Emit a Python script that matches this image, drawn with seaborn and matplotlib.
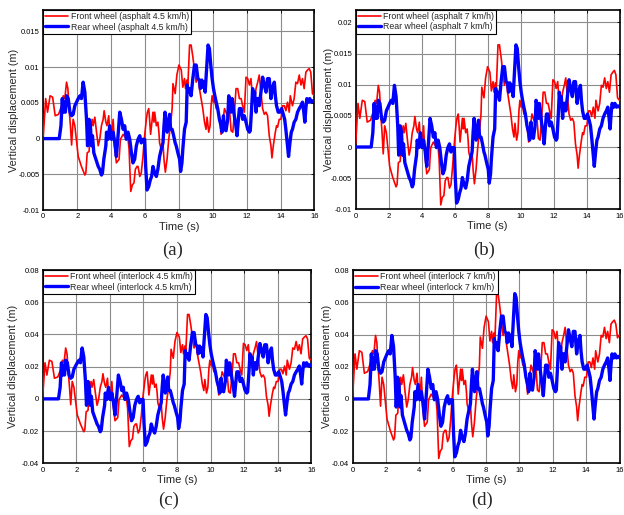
import matplotlib
matplotlib.use("Agg")
import matplotlib.pyplot as plt
from matplotlib.ticker import MultipleLocator, FuncFormatter
import pandas as pd
import seaborn as sns

t_front = [
    0.0, 0.14, 0.25, 0.4, 0.55, 0.7, 0.9, 1.08, 1.18, 1.27,
    1.37, 1.45, 1.53, 1.6, 1.67, 1.76, 1.86, 2.06, 2.25, 2.45,
    2.51, 2.59, 2.7, 2.78, 2.88, 2.94, 3.04, 3.14, 3.24, 3.33,
    3.43, 3.53, 3.59, 3.69, 3.76, 3.86, 3.92, 4.02, 4.12, 4.2,
    4.31, 4.47, 4.55, 4.71, 4.86, 5.0, 5.06, 5.1, 5.16, 5.25,
    5.35, 5.43, 5.53, 5.59, 5.69, 5.78, 5.88, 5.94, 6.0, 6.08,
    6.14, 6.22, 6.27, 6.33, 6.47, 6.53, 6.57, 6.67, 6.76, 6.82,
    6.86, 6.96, 7.06, 7.12, 7.2, 7.3, 7.4, 7.5, 7.6, 7.65,
    7.78, 7.88, 8.0, 8.14, 8.23, 8.33, 8.39, 8.47, 8.53, 8.63,
    8.72, 8.82, 8.92, 9.02, 9.12, 9.21, 9.31, 9.41, 9.51, 9.6,
    9.66, 9.76, 9.84, 9.9, 9.96, 10.04, 10.1, 10.2, 10.3, 10.39,
    10.49, 10.59, 10.69, 10.78, 10.88, 10.98, 11.08, 11.18, 11.27, 11.37,
    11.47, 11.57, 11.67, 11.76, 11.86, 11.96, 12.06, 12.16, 12.25, 12.35,
    12.45, 12.55, 12.65, 12.74, 12.84, 12.94, 13.04, 13.14, 13.23, 13.33,
    13.43, 13.49, 13.57, 13.69, 13.76, 13.82, 13.92, 14.02, 14.12, 14.22,
    14.31, 14.41, 14.51, 14.57, 14.7, 14.8, 14.9, 15.0, 15.1, 15.2,
    15.29, 15.39, 15.49, 15.59, 15.69, 15.78, 15.88, 16.0,
]
t_rear = [
    0.0, 0.94, 1.04, 1.12, 1.18, 1.24, 1.3, 1.37, 1.47, 1.57,
    1.67, 1.76, 1.86, 1.96, 2.06, 2.16, 2.25, 2.35, 2.45, 2.55,
    2.61, 2.7, 2.78, 2.84, 2.9, 2.98, 3.1, 3.24, 3.33, 3.43,
    3.49, 3.57, 3.69, 3.73, 3.82, 3.92, 4.02, 4.12, 4.22, 4.31,
    4.41, 4.51, 4.61, 4.71, 4.8, 4.9, 5.0, 5.1, 5.2, 5.29,
    5.39, 5.49, 5.59, 5.69, 5.78, 5.88, 5.98, 6.04, 6.12, 6.22,
    6.31, 6.39, 6.47, 6.57, 6.67, 6.76, 6.86, 6.96, 7.06, 7.12,
    7.18, 7.25, 7.31, 7.37, 7.45, 7.51, 7.6, 7.69, 7.78, 7.84,
    7.94, 8.04, 8.1, 8.18, 8.23, 8.33, 8.43, 8.49, 8.57, 8.63,
    8.72, 8.82, 8.92, 9.02, 9.12, 9.21, 9.27, 9.35, 9.41, 9.47,
    9.55, 9.65, 9.72, 9.8, 9.88, 9.96, 10.04, 10.12, 10.2, 10.29,
    10.39, 10.49, 10.55, 10.63, 10.69, 10.78, 10.88, 10.94, 11.02, 11.08,
    11.14, 11.22, 11.27, 11.37, 11.43, 11.51, 11.57, 11.67, 11.76, 11.86,
    11.96, 12.06, 12.16, 12.21, 12.29, 12.35, 12.41, 12.47, 12.55, 12.61,
    12.69, 12.74, 12.84, 12.94, 13.04, 13.14, 13.23, 13.33, 13.43, 13.53,
    13.63, 13.69, 13.76, 13.86, 13.96, 14.06, 14.16, 14.24, 14.31, 14.41,
    14.47, 14.55, 14.63, 14.7, 14.8, 14.9, 15.0, 15.1, 15.2, 15.29,
    15.37, 15.43, 15.49, 15.55, 15.65, 15.72, 15.82, 15.92, 16.0,
]

# vertical displacement in mm, one list per panel and wheel
front_asphalt_45 = [
    0.4, 5.6, 3.7, 6.0, 5.8, 3.2, 3.4, 4.6, 6.0, 5.6,
    7.9, 7.0, 3.9, 1.8, -0.9, 2.7, 1.8, -2.5, -3.9, -5.1,
    -4.8, -2.0, -1.8, 0.9, 2.7, 1.8, 3.0, 0.9, -1.0, -0.1,
    1.8, 2.7, 3.9, 2.3, 1.8, 3.2, 0.9, -0.1, 2.7, -1.0,
    -3.4, -2.9, -0.1, 0.6, 0.1, -0.1, -1.5, -3.9, -7.4, -6.5,
    -6.2, -4.3, -3.9, -3.9, -5.3, -4.8, -2.5, -0.6, 0.9, 2.7,
    3.7, 4.2, 2.7, 0.6, 3.7, 2.3, 3.7, 1.8, 2.3, 0.9,
    -0.6, -1.5, -0.6, -2.9, -4.7, -2.9, -0.1, 1.8, 4.2, 7.7,
    6.3, 8.9, 10.3, 9.6, 7.2, 8.4, 7.0, 8.2, 7.5, 13.1,
    13.1, 11.5, 9.6, 7.9, 8.9, 7.0, 5.6, 4.2, 2.3, 1.3,
    3.0, 0.9, 1.8, 4.6, 6.0, 5.1, 5.6, 4.2, 4.2, 2.7,
    0.6, 2.3, 4.2, 3.7, 3.0, 4.2, 1.1, 0.9, 3.4, 7.0,
    7.0, 5.6, 5.6, 4.6, 3.7, 8.6, 8.4, 7.5, 8.4, 5.6,
    5.1, 7.0, 7.9, 8.9, 6.5, 4.2, 3.4, 3.7, 3.2, 0.4,
    -1.0, -2.7, -1.0, 0.9, 1.8, 1.6, 2.7, 2.7, 4.6, 4.6,
    3.9, 5.1, 3.7, 6.0, 4.6, 5.6, 7.9, 7.7, 8.9, 7.5,
    8.4, 7.0, 9.3, 9.6, 9.8, 9.3, 6.3, 6.0,
]
rear_asphalt_45 = [
    0.0, 0.0, 1.8, 5.6, 3.7, 5.1, 3.7, 6.0, 5.6, 3.7,
    3.2, 3.4, 4.6, 5.1, 5.6, 6.0, 5.6, 7.9, 6.5, 2.7,
    -1.0, 2.7, 1.8, -1.0, 0.4, -2.0, -2.9, -3.9, -4.3, -5.1,
    -4.8, -2.9, -1.0, 0.9, -0.1, 1.8, -0.1, 0.9, -0.6, -2.5,
    0.4, 3.7, 2.7, 1.3, 1.8, -0.1, 0.9, -0.1, -2.0, -3.4,
    -2.9, -1.0, -0.1, 0.4, -0.6, -0.1, -0.1, -3.9, -7.2, -6.7,
    -5.8, -5.3, -3.9, -4.8, -5.3, -4.3, -2.5, -1.5, -0.6, 1.8,
    3.7, 2.3, 0.9, 1.8, 3.4, 1.3, 1.3, 0.4, -0.6, -1.0,
    -2.0, -2.9, -4.6, -3.4, -1.5, 1.3, 2.3, 7.5, 6.5, 7.0,
    6.0, 8.4, 10.3, 10.3, 8.4, 8.2, 7.0, 8.2, 7.2, 7.9,
    6.5, 10.3, 13.1, 12.6, 10.3, 8.4, 7.0, 6.0, 5.1, 4.2,
    2.7, 1.8, 0.9, 3.2, 1.3, 1.1, 2.7, 6.0, 5.1, 3.7,
    5.6, 4.2, 3.2, 1.6, 0.4, 2.7, 4.2, 4.2, 2.7, 3.2,
    2.3, 1.3, 0.9, 1.1, 4.2, 7.0, 5.6, 6.5, 3.7, 5.6,
    5.6, 4.6, 6.5, 8.6, 7.5, 6.5, 8.4, 8.4, 5.6, 7.2,
    7.9, 6.0, 4.6, 3.7, 3.7, 4.2, 3.4, 2.7, 1.3, -1.0,
    -2.5, -0.6, 0.9, 1.3, 2.3, 2.7, 3.7, 4.2, 4.6, 5.1,
    3.7, 2.3, 4.2, 5.6, 5.1, 5.6, 5.1, 5.3, 5.1,
]
front_asphalt_7 = [
    0.5, 7.0, 4.6, 7.5, 7.3, 4.0, 4.3, 5.8, 7.5, 7.0,
    9.9, 8.8, 4.9, 2.3, -1.1, 3.4, 2.3, -3.1, -4.9, -6.4,
    -6.0, -2.5, -2.3, 1.1, 3.4, 2.3, 3.8, 1.1, -1.3, -0.1,
    2.3, 3.4, 4.9, 2.9, 2.3, 4.0, 1.1, -0.1, 3.4, -1.3,
    -4.3, -3.6, -0.1, 0.8, 0.1, -0.1, -1.9, -4.9, -9.3, -8.1,
    -7.8, -5.4, -4.9, -4.9, -6.6, -6.0, -3.1, -0.8, 1.1, 3.4,
    4.6, 5.3, 3.4, 0.8, 4.6, 2.9, 4.6, 2.3, 2.9, 1.1,
    -0.8, -1.9, -0.8, -3.6, -5.9, -3.6, -0.1, 2.3, 5.3, 9.6,
    7.9, 11.1, 12.9, 12.0, 9.0, 10.5, 8.8, 10.3, 9.4, 16.4,
    16.4, 14.4, 12.0, 9.9, 11.1, 8.8, 7.0, 5.3, 2.9, 1.6,
    3.8, 1.1, 2.3, 5.8, 7.5, 6.4, 7.0, 5.3, 5.3, 3.4,
    0.8, 2.9, 5.3, 4.6, 3.8, 5.3, 1.4, 1.1, 4.3, 8.8,
    8.8, 7.0, 7.0, 5.8, 4.6, 10.8, 10.5, 9.4, 10.5, 7.0,
    6.4, 8.8, 9.9, 11.1, 8.1, 5.3, 4.3, 4.6, 4.0, 0.5,
    -1.3, -3.4, -1.3, 1.1, 2.3, 2.0, 3.4, 3.4, 5.8, 5.8,
    4.9, 6.4, 4.6, 7.5, 5.8, 7.0, 9.9, 9.6, 11.1, 9.4,
    10.5, 8.8, 11.6, 12.0, 12.3, 11.6, 7.9, 7.5,
]
rear_asphalt_7 = [
    0.0, 0.0, 2.3, 7.0, 4.6, 6.4, 4.6, 7.5, 7.0, 4.6,
    4.0, 4.3, 5.8, 6.4, 7.0, 7.5, 7.0, 9.9, 8.1, 3.4,
    -1.3, 3.4, 2.3, -1.3, 0.5, -2.5, -3.6, -4.9, -5.4, -6.4,
    -6.0, -3.6, -1.3, 1.1, -0.1, 2.3, -0.1, 1.1, -0.8, -3.1,
    0.5, 4.6, 3.4, 1.6, 2.3, -0.1, 1.1, -0.1, -2.5, -4.3,
    -3.6, -1.3, -0.1, 0.5, -0.8, -0.1, -0.1, -4.9, -9.0, -8.4,
    -7.3, -6.6, -4.9, -6.0, -6.6, -5.4, -3.1, -1.9, -0.8, 2.3,
    4.6, 2.9, 1.1, 2.3, 4.3, 1.6, 1.6, 0.5, -0.8, -1.3,
    -2.5, -3.6, -5.8, -4.3, -1.9, 1.6, 2.9, 9.4, 8.1, 8.8,
    7.5, 10.5, 12.9, 12.9, 10.5, 10.3, 8.8, 10.3, 9.0, 9.9,
    8.1, 12.9, 16.4, 15.8, 12.9, 10.5, 8.8, 7.5, 6.4, 5.3,
    3.4, 2.3, 1.1, 4.0, 1.6, 1.4, 3.4, 7.5, 6.4, 4.6,
    7.0, 5.3, 4.0, 2.0, 0.5, 3.4, 5.3, 5.3, 3.4, 4.0,
    2.9, 1.6, 1.1, 1.4, 5.3, 8.8, 7.0, 8.1, 4.6, 7.0,
    7.0, 5.8, 8.1, 10.8, 9.4, 8.1, 10.5, 10.5, 7.0, 9.0,
    9.9, 7.5, 5.8, 4.6, 4.6, 5.3, 4.3, 3.4, 1.6, -1.3,
    -3.1, -0.8, 1.1, 1.6, 2.9, 3.4, 4.6, 5.3, 5.8, 6.4,
    4.6, 2.9, 5.3, 7.0, 6.4, 7.0, 6.4, 6.6, 6.4,
]
front_interlock_45 = [
    1.6, 22.4, 14.8, 24.0, 23.2, 12.8, 13.6, 18.4, 24.0, 22.4,
    31.6, 28.0, 15.6, 7.2, -3.6, 10.8, 7.2, -10.0, -15.6, -20.4,
    -19.2, -8.0, -7.2, 3.6, 10.8, 7.2, 12.0, 3.6, -4.0, -0.4,
    7.2, 10.8, 15.6, 9.2, 7.2, 12.8, 3.6, -0.4, 10.8, -4.0,
    -13.6, -11.6, -0.4, 2.4, 0.4, -0.4, -6.0, -15.6, -29.6, -26.0,
    -24.8, -17.2, -15.6, -15.6, -21.2, -19.2, -10.0, -2.4, 3.6, 10.8,
    14.8, 16.8, 10.8, 2.4, 14.8, 9.2, 14.8, 7.2, 9.2, 3.6,
    -2.4, -6.0, -2.4, -11.6, -18.8, -11.6, -0.4, 7.2, 16.8, 30.8,
    25.2, 35.6, 41.2, 38.4, 28.8, 33.6, 28.0, 32.8, 30.0, 52.4,
    52.4, 46.0, 38.4, 31.6, 35.6, 28.0, 22.4, 16.8, 9.2, 5.2,
    12.0, 3.6, 7.2, 18.4, 24.0, 20.4, 22.4, 16.8, 16.8, 10.8,
    2.4, 9.2, 16.8, 14.8, 12.0, 16.8, 4.4, 3.6, 13.6, 28.0,
    28.0, 22.4, 22.4, 18.4, 14.8, 34.4, 33.6, 30.0, 33.6, 22.4,
    20.4, 28.0, 31.6, 35.6, 26.0, 16.8, 13.6, 14.8, 12.8, 1.6,
    -4.0, -10.8, -4.0, 3.6, 7.2, 6.4, 10.8, 10.8, 18.4, 18.4,
    15.6, 20.4, 14.8, 24.0, 18.4, 22.4, 31.6, 30.8, 35.6, 30.0,
    33.6, 28.0, 37.2, 38.4, 39.2, 37.2, 25.2, 24.0,
]
rear_interlock_45 = [
    0.0, 0.0, 7.2, 22.4, 14.8, 20.4, 14.8, 24.0, 22.4, 14.8,
    12.8, 13.6, 18.4, 20.4, 22.4, 24.0, 22.4, 31.6, 26.0, 10.8,
    -4.0, 10.8, 7.2, -4.0, 1.6, -8.0, -11.6, -15.6, -17.2, -20.4,
    -19.2, -11.6, -4.0, 3.6, -0.4, 7.2, -0.4, 3.6, -2.4, -10.0,
    1.6, 14.8, 10.8, 5.2, 7.2, -0.4, 3.6, -0.4, -8.0, -13.6,
    -11.6, -4.0, -0.4, 1.6, -2.4, -0.4, -0.4, -15.6, -28.8, -26.8,
    -23.2, -21.2, -15.6, -19.2, -21.2, -17.2, -10.0, -6.0, -2.4, 7.2,
    14.8, 9.2, 3.6, 7.2, 13.6, 5.2, 5.2, 1.6, -2.4, -4.0,
    -8.0, -11.6, -18.4, -13.6, -6.0, 5.2, 9.2, 30.0, 26.0, 28.0,
    24.0, 33.6, 41.2, 41.2, 33.6, 32.8, 28.0, 32.8, 28.8, 31.6,
    26.0, 41.2, 52.4, 50.4, 41.2, 33.6, 28.0, 24.0, 20.4, 16.8,
    10.8, 7.2, 3.6, 12.8, 5.2, 4.4, 10.8, 24.0, 20.4, 14.8,
    22.4, 16.8, 12.8, 6.4, 1.6, 10.8, 16.8, 16.8, 10.8, 12.8,
    9.2, 5.2, 3.6, 4.4, 16.8, 28.0, 22.4, 26.0, 14.8, 22.4,
    22.4, 18.4, 26.0, 34.4, 30.0, 26.0, 33.6, 33.6, 22.4, 28.8,
    31.6, 24.0, 18.4, 14.8, 14.8, 16.8, 13.6, 10.8, 5.2, -4.0,
    -10.0, -2.4, 3.6, 5.2, 9.2, 10.8, 14.8, 16.8, 18.4, 20.4,
    14.8, 9.2, 16.8, 22.4, 20.4, 22.4, 20.4, 21.2, 20.4,
]
front_interlock_7 = [
    2.0, 28.0, 18.5, 30.0, 29.0, 16.0, 17.0, 23.0, 30.0, 28.0,
    39.5, 35.0, 19.5, 9.0, -4.5, 13.5, 9.0, -12.5, -19.5, -25.5,
    -24.0, -10.0, -9.0, 4.5, 13.5, 9.0, 15.0, 4.5, -5.0, -0.5,
    9.0, 13.5, 19.5, 11.5, 9.0, 16.0, 4.5, -0.5, 13.5, -5.0,
    -17.0, -14.5, -0.5, 3.0, 0.5, -0.5, -7.5, -19.5, -37.0, -32.5,
    -31.0, -21.5, -19.5, -19.5, -26.5, -24.0, -12.5, -3.0, 4.5, 13.5,
    18.5, 21.0, 13.5, 3.0, 18.5, 11.5, 18.5, 9.0, 11.5, 4.5,
    -3.0, -7.5, -3.0, -14.5, -23.5, -14.5, -0.5, 9.0, 21.0, 38.5,
    31.5, 44.5, 51.5, 48.0, 36.0, 42.0, 35.0, 41.0, 37.5, 65.5,
    65.5, 57.5, 48.0, 39.5, 44.5, 35.0, 28.0, 21.0, 11.5, 6.5,
    15.0, 4.5, 9.0, 23.0, 30.0, 25.5, 28.0, 21.0, 21.0, 13.5,
    3.0, 11.5, 21.0, 18.5, 15.0, 21.0, 5.5, 4.5, 17.0, 35.0,
    35.0, 28.0, 28.0, 23.0, 18.5, 43.0, 42.0, 37.5, 42.0, 28.0,
    25.5, 35.0, 39.5, 44.5, 32.5, 21.0, 17.0, 18.5, 16.0, 2.0,
    -5.0, -13.5, -5.0, 4.5, 9.0, 8.0, 13.5, 13.5, 23.0, 23.0,
    19.5, 25.5, 18.5, 30.0, 23.0, 28.0, 39.5, 38.5, 44.5, 37.5,
    42.0, 35.0, 46.5, 48.0, 49.0, 46.5, 38.0, 40.0,
]
rear_interlock_7 = [
    0.0, 0.0, 9.0, 28.0, 18.5, 25.5, 18.5, 30.0, 28.0, 18.5,
    16.0, 17.0, 23.0, 25.5, 28.0, 30.0, 28.0, 39.5, 32.5, 13.5,
    -5.0, 13.5, 9.0, -5.0, 2.0, -10.0, -14.5, -19.5, -21.5, -25.5,
    -24.0, -14.5, -5.0, 4.5, -0.5, 9.0, -0.5, 4.5, -3.0, -12.5,
    2.0, 18.5, 13.5, 6.5, 9.0, -0.5, 4.5, -0.5, -10.0, -17.0,
    -14.5, -5.0, -0.5, 2.0, -3.0, -0.5, -0.5, -19.5, -36.0, -33.5,
    -29.0, -26.5, -19.5, -24.0, -26.5, -21.5, -12.5, -7.5, -3.0, 9.0,
    18.5, 11.5, 4.5, 9.0, 17.0, 6.5, 6.5, 2.0, -3.0, -5.0,
    -10.0, -14.5, -23.0, -17.0, -7.5, 6.5, 11.5, 37.5, 32.5, 35.0,
    30.0, 42.0, 51.5, 51.5, 42.0, 41.0, 35.0, 41.0, 36.0, 39.5,
    32.5, 51.5, 65.5, 63.0, 51.5, 42.0, 35.0, 30.0, 25.5, 21.0,
    13.5, 9.0, 4.5, 16.0, 6.5, 5.5, 13.5, 30.0, 25.5, 18.5,
    28.0, 21.0, 16.0, 8.0, 2.0, 13.5, 21.0, 21.0, 13.5, 16.0,
    11.5, 6.5, 4.5, 5.5, 21.0, 35.0, 28.0, 32.5, 18.5, 28.0,
    28.0, 23.0, 32.5, 43.0, 37.5, 32.5, 42.0, 42.0, 28.0, 36.0,
    39.5, 30.0, 23.0, 18.5, 18.5, 21.0, 17.0, 13.5, 6.5, -5.0,
    -12.5, -3.0, 4.5, 6.5, 11.5, 13.5, 18.5, 21.0, 23.0, 25.5,
    18.5, 11.5, 21.0, 28.0, 25.5, 28.0, 25.5, 26.5, 25.5,
]

conditions = ["asphalt 4.5 km/h", "asphalt 7 km/h", "interlock 4.5 km/h", "interlock 7 km/h"]
front_series = [front_asphalt_45, front_asphalt_7, front_interlock_45, front_interlock_7]
rear_series = [rear_asphalt_45, rear_asphalt_7, rear_interlock_45, rear_interlock_7]
captions = ["(a)", "(b)", "(c)", "(d)"]

# layout (figure fractions) and axis settings per panel
rects = [
    [0.0694, 0.5922, 0.4346, 0.3883],
    [0.5700, 0.5936, 0.4228, 0.3870],
    [0.0684, 0.1004, 0.4304, 0.3753],
    [0.5652, 0.1004, 0.4276, 0.3748],
]
ylims = [(-0.01, 0.018), (-0.01, 0.022), (-0.04, 0.08), (-0.04, 0.08)]
ysteps = [0.005, 0.005, 0.02, 0.02]
ylabel_x = [-0.108, -0.103, -0.109, -0.096]
caption_pos = [(173, 250), (484, 250), (169, 500), (482, 500)]

sns.set_style("white")
plt.rcParams["font.family"] = ["Liberation Sans", "DejaVu Sans"]

W, H = 624, 515
fig = plt.figure(figsize=(W / 100, H / 100), dpi=100)

fmt = FuncFormatter(lambda v, p: f"{round(v, 6):g}")

for i in range(4):
    assert len(front_series[i]) == len(t_front)
    assert len(rear_series[i]) == len(t_rear)
    ax = fig.add_axes(rects[i])
    front = pd.DataFrame({"t": t_front, "y": [v / 1000 for v in front_series[i]]})
    rear = pd.DataFrame({"t": t_rear, "y": [v / 1000 for v in rear_series[i]]})
    sns.lineplot(data=front, x="t", y="y", ax=ax, color="#ff0000", linewidth=1.2,
                 sort=False, errorbar=None, label=f"Front wheel ({conditions[i]})", zorder=3)
    sns.lineplot(data=rear, x="t", y="y", ax=ax, color="#0000ff", linewidth=2.4,
                 sort=False, errorbar=None, label=f"Rear wheel ({conditions[i]})", zorder=4)

    ax.set_xlim(0, 16)
    ax.set_ylim(*ylims[i])
    ax.xaxis.set_major_locator(MultipleLocator(2))
    ax.yaxis.set_major_locator(MultipleLocator(ysteps[i]))
    ax.yaxis.set_major_formatter(fmt)
    ax.grid(True, color="#8c8c8c", linewidth=0.8)
    ax.set_axisbelow(True)
    ax.tick_params(direction="in", top=True, right=True, length=2.5, width=0.6,
                   labelsize=5.5, pad=2.5, colors="black")
    for s in ax.spines.values():
        s.set_color("black")
        s.set_linewidth(1.2)

    ax.set_xlabel("Time (s)", fontsize=8)
    ax.set_ylabel("Vertical displacement (m)", fontsize=7.8)
    ax.xaxis.set_label_coords(0.5, -0.085)
    ax.xaxis.label.set_va("center")
    ax.yaxis.set_label_coords(ylabel_x[i], 0.5)
    ax.yaxis.label.set_va("center")

    leg = ax.legend(loc="upper left", bbox_to_anchor=(0, 1), borderaxespad=0,
                    fancybox=False, edgecolor="black", framealpha=1, fontsize=6.3,
                    handlelength=2.6, handletextpad=0.3, borderpad=0.25, labelspacing=0.15)
    leg.get_frame().set_linewidth(0.8)
    leg.set_zorder(10)

    cx, cy = caption_pos[i]
    fig.text(cx / W, 1 - cy / H, captions[i], ha="center", va="center",
             fontsize=13.5, family=["Liberation Serif", "DejaVu Serif"])

fig.savefig("out.png", dpi=100)
